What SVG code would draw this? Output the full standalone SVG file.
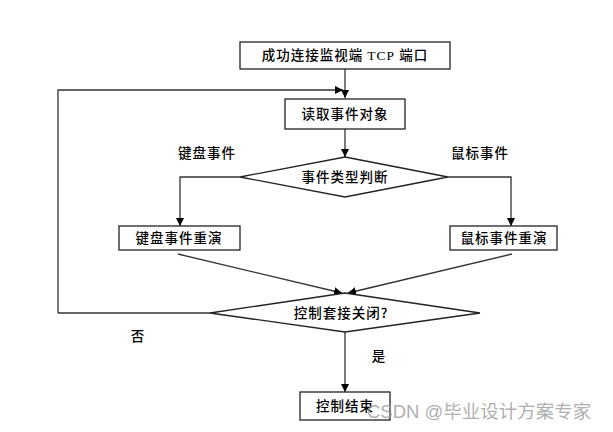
<svg xmlns="http://www.w3.org/2000/svg" width="613" height="432" viewBox="0 0 613 432">
<defs>
<marker id="arr" viewBox="0 0 10 10" refX="10" refY="5" markerWidth="8" markerHeight="8" markerUnits="userSpaceOnUse" orient="auto">
<path d="M0,0 L10,5 L0,10 z" fill="#000"/>
</marker>
</defs>
<style>
.box{fill:#fff;stroke:#222;stroke-width:1.3}
.ln{fill:none;stroke:#333;stroke-width:1.3}
.t{font-family:"Noto Sans CJK SC","Liberation Sans",sans-serif;font-size:13.5px;font-weight:500;fill:#000;text-anchor:middle;letter-spacing:1px}
.wm{font-family:"Liberation Sans","Noto Sans CJK SC",sans-serif;font-size:18.5px;fill:#999;fill-opacity:0.8}
</style>
<rect width="613" height="432" fill="#fff"/>
<g id="connectors">
<path class="ln" d="M345,69 V98" marker-end="url(#arr)"/>
<path class="ln" d="M58,313 V90 H343" marker-end="url(#arr)"/>
<path class="ln" d="M345,129 V157" marker-end="url(#arr)"/>
<path class="ln" d="M240,177 H180 V226" marker-end="url(#arr)"/>
<path class="ln" d="M448,177 H511 V226" marker-end="url(#arr)"/>
<path class="ln" d="M178,254 L342,293" marker-end="url(#arr)"/>
<path class="ln" d="M512,254 L348,293" marker-end="url(#arr)"/>
<path class="ln" d="M345,332 V392" marker-end="url(#arr)"/>
<path class="ln" d="M58,313 H210"/>
</g>
<g id="n1"><rect class="box" x="240" y="42" width="210" height="27"/><text class="t" x="345" y="60">成功连接监视端 <tspan font-family="Liberation Serif,serif">TCP</tspan> 端口</text></g>
<g id="n2"><rect class="box" x="285" y="99" width="120" height="30"/><text class="t" x="345" y="119">读取事件对象</text></g>
<g id="n3"><path class="box" d="M345,157 L448,177 L345,197 L240,177 Z"/><text class="t" x="345" y="182">事件类型判断</text></g>
<g id="n4"><rect class="box" x="119" y="226" width="121" height="24"/><text class="t" x="179" y="243">键盘事件重演</text></g>
<g id="n5"><rect class="box" x="450" y="226" width="107" height="24"/><text class="t" x="504" y="243">鼠标事件重演</text></g>
<g id="n6"><path class="box" d="M345,293 L480,313 L345,332 L210,313 Z"/><text class="t" x="341" y="318">控制套接关闭?</text></g>
<g id="n7"><rect class="box" x="300" y="392" width="90" height="28"/><text class="t" x="345" y="411">控制结束</text></g>
<g id="labels">
<text class="t" x="207" y="158">键盘事件</text>
<text class="t" x="480" y="158">鼠标事件</text>
<text class="t" x="138" y="341">否</text>
<text class="t" x="379" y="361">是</text>
</g>
<text class="wm" x="367" y="418">CSDN @毕业设计方案专家</text>
</svg>
